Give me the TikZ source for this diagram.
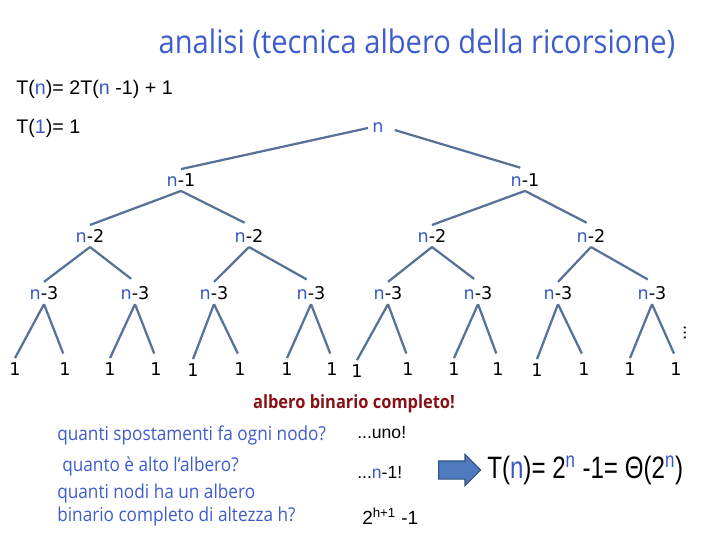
\documentclass[tikz,border=0pt]{standalone}
\usepackage{fontspec}
\setmainfont{Liberation Sans}
\newfontfamily\comicfont[FakeStretch=0.9]{Open Sans}
\newfontfamily\treefont{DejaVu Sans}
\newfontfamily\narrowfont[FakeStretch=0.78]{Liberation Sans}
\usetikzlibrary{shapes.arrows}
\definecolor{titleBlue}{RGB}{62,92,205}
\definecolor{varBlue}{RGB}{55,88,195}
\definecolor{edgeBlue}{RGB}{86,114,152}
\definecolor{darkRed}{RGB}{135,18,22}
\definecolor{arrowFill}{RGB}{79,122,189}
\definecolor{arrowDraw}{RGB}{50,80,130}
\newcommand{\nv}{\textcolor{varBlue}{n}}
\tikzset{
    title/.style={font=\comicfont\fontsize{23}{27}\selectfont, text=titleBlue, inner sep=0pt},
    eqtext/.style={font=\fontsize{14}{17}\selectfont, anchor=west, inner sep=0pt},
    lab/.style={font=\treefont\fontsize{12.5}{15}\selectfont, inner sep=3pt},
    question/.style={font=\comicfont\fontsize{13.6}{17}\selectfont, text=titleBlue,
                     anchor=west, align=left, inner sep=0pt},
    answer/.style={font=\fontsize{12.5}{15}\selectfont, anchor=west, inner sep=0pt},
    edge/.style={draw, edgeBlue, line width=1.6pt, shorten >=3.5pt},
    bigArrow/.style={single arrow, draw=arrowDraw, fill=arrowFill, line width=0.8pt,
                     inner sep=0.2125cm, minimum height=1.05cm,
                     single arrow head extend=0.1625cm}
}
\begin{document}
\begin{tikzpicture}[x=0.025cm, y=-0.025cm]
  \useasboundingbox (0,0) rectangle (720,540);

  % heading and recurrence
  \node [title] (head) at (417,44) {analisi (tecnica albero della ricorsione)};
  \node [eqtext] (rec) at (16,89) {T(\nv)= 2T(\nv{} -1) + 1};
  \node [eqtext] (base) at (16,128) {T(\textcolor{varBlue}{1})= 1};

  % recursion tree
  \node [lab] (n0) at (378,128) {\nv};
  \node [lab] (n1l) at (181,180) {\nv-1};
  \node [lab] (n1r) at (525,180) {\nv-1};

  \node [lab] (n2a) at (90,236) {\nv-2};
  \node [lab] (n2b) at (249,236) {\nv-2};
  \node [lab] (n2c) at (432,236) {\nv-2};
  \node [lab] (n2d) at (591,236) {\nv-2};

  \node [lab] (n3a) at (44,293) {\nv-3};
  \node [lab] (n3b) at (135,293) {\nv-3};
  \node [lab] (n3c) at (214,293) {\nv-3};
  \node [lab] (n3d) at (311,293) {\nv-3};
  \node [lab] (n3e) at (388,293) {\nv-3};
  \node [lab] (n3f) at (478,293) {\nv-3};
  \node [lab] (n3g) at (558,293) {\nv-3};
  \node [lab] (n3h) at (652,293) {\nv-3};

  \node [lab] (l1) at (15,369) {1};
  \node [lab] (l2) at (65,369) {1};
  \node [lab] (l3) at (110,369) {1};
  \node [lab] (l4) at (156,369) {1};
  \node [lab] (l5) at (193,370) {1};
  \node [lab] (l6) at (240,369) {1};
  \node [lab] (l7) at (287,369) {1};
  \node [lab] (l8) at (332,369) {1};
  \node [lab] (l9) at (357,371) {1};
  \node [lab] (l10) at (408,369) {1};
  \node [lab] (l11) at (454,369) {1};
  \node [lab] (l12) at (498,369) {1};
  \node [lab] (l13) at (537,370) {1};
  \node [lab] (l14) at (584,369) {1};
  \node [lab] (l15) at (630,369) {1};
  \node [lab] (l16) at (676,369) {1};

  \node [font=\fontsize{13}{15}\selectfont, rotate=90, inner sep=0pt] (dots) at (685,333) {...};

  \draw[edge, shorten <=5pt] (n0.west) -- (n1l.north) (n0.east) -- (n1r.north);
  \draw[edge] (n1l.south) -- (n2a.north) (n1l.south) -- (n2b.north);
  \draw[edge] (n1r.south) -- (n2c.north) (n1r.south) -- (n2d.north);
  \draw[edge] (n2a.south) -- (n3a.north) (n2a.south) -- (n3b.north);
  \draw[edge] (n2b.south) -- (n3c.north) (n2b.south) -- (n3d.north);
  \draw[edge] (n2c.south) -- (n3e.north) (n2c.south) -- (n3f.north);
  \draw[edge] (n2d.south) -- (n3g.north) (n2d.south) -- (n3h.north);
  \draw[edge] (n3a.south) -- (l1.north) (n3a.south) -- (l2.north);
  \draw[edge] (n3b.south) -- (l3.north) (n3b.south) -- (l4.north);
  \draw[edge] (n3c.south) -- (l5.north) (n3c.south) -- (l6.north);
  \draw[edge] (n3d.south) -- (l7.north) (n3d.south) -- (l8.north);
  \draw[edge] (n3e.south) -- (l9.north) (n3e.south) -- (l10.north);
  \draw[edge] (n3f.south) -- (l11.north) (n3f.south) -- (l12.north);
  \draw[edge] (n3g.south) -- (l13.north) (n3g.south) -- (l14.north);
  \draw[edge] (n3h.south) -- (l15.north) (n3h.south) -- (l16.north);

  % questions and answers
  \node [font=\comicfont\bfseries\fontsize{13}{16}\selectfont, text=darkRed, inner sep=0pt]
        (full) at (354,404) {albero binario completo!};
  \node [question] (q1) at (57,435) {quanti spostamenti fa ogni nodo?};
  \node [question] (q2) at (62,466) {quanto è alto l’albero?};
  \node [question] (q3) at (57,505) {quanti nodi ha un albero\\binario completo di altezza h?};
  \node [answer] (a1) at (357,433) {...uno!};
  \node [answer] (a2) at (357,472) {...\nv-1!};
  \node [answer, font=\fontsize{13.5}{16}\selectfont] (a3) at (362,516) {2\textsuperscript{h+1} -1};

  \node [bigArrow, anchor=tail] (arr) at (438,470) {};
  \node [font=\narrowfont\fontsize{22}{26}\selectfont, anchor=west, inner sep=0pt]
        (result) at (487,470) {T(\nv)= 2\textsuperscript{\nv} -1= Θ(2\textsuperscript{\nv})};
\end{tikzpicture}
\end{document}
